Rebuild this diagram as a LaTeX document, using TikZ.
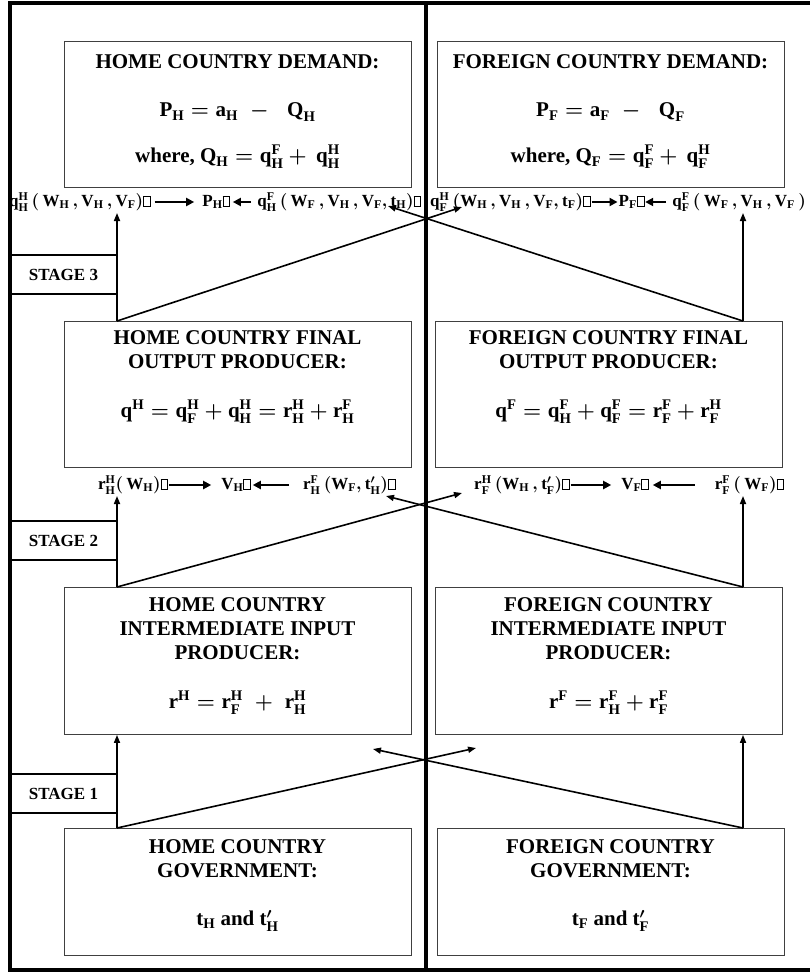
\documentclass[tikz,border=0pt]{standalone}
\usepackage{amsmath}
\usepackage{fontspec}
\setmainfont{Liberation Serif}
\usetikzlibrary{arrows.meta}
\newcommand{\qb}{{\setlength{\fboxsep}{0pt}\setlength{\fboxrule}{0.5pt}\fbox{\rule{0pt}{0.6em}\hspace{0.36em}}}}
\newcommand{\Xss}[3]{\textbf{#1}^{\textbf{#2}}_{\textbf{#3}}}
\newcommand{\Xsb}[2]{\textbf{#1}_{\textbf{#2}}}
\newcommand{\Xsp}[2]{\textbf{#1}^{\textbf{#2}}}
\newcommand{\Xpr}[2]{\textbf{#1}'_{\textbf{#2}}}
\tikzset{
  box/.style={draw=black!75, line width=0.9pt, minimum width=347pt, inner sep=0pt, anchor=north west},
  head/.style={font=\fontsize{21}{24}\selectfont\bfseries\boldmath, align=center, inner sep=0pt},
  eqn/.style={font=\fontsize{21}{24}\selectfont\bfseries\boldmath, inner sep=0pt},
  lab/.style={font=\fontsize{17}{20}\selectfont\bfseries\boldmath, inner sep=0pt},
  stg/.style={draw, line width=1.5pt, minimum width=107pt, minimum height=39pt, inner sep=0pt,
              font=\fontsize{17}{20}\selectfont\bfseries},
  frame/.style={line width=3.6pt},
  conn/.style={line width=1.6pt},
  arr/.style={conn, -{Triangle[length=8pt,width=6pt]}},
  harr/.style={line width=2.4pt, -{Triangle[length=8pt,width=8pt]}},
}
\begin{document}
\begin{tikzpicture}[x=1pt,y=-1pt]
\useasboundingbox (0,0) rectangle (809,974);
% frame
\coordinate (ftl) at (10,3);
\coordinate (ftr) at (812,3);
\coordinate (fbl) at (10,970);
\coordinate (fbr) at (812,970);
\coordinate (mt) at (426,3);
\coordinate (mb) at (426,970);
\draw[frame] (ftr) -- (ftl) -- (fbl) -- (fbr);
\draw[line width=4pt] (mt) -- (mb);

% boxes
\node[box, minimum height=146pt] (hd) at (64,41) {};
\node[box, minimum height=146pt] (fd) at (437,41) {};
\node[box, minimum height=146pt] (hf) at (64,321) {};
\node[box, minimum height=146pt] (ff) at (435,321) {};
\node[box, minimum height=147pt] (hi) at (64,587) {};
\node[box, minimum height=147pt] (fi) at (435,587) {};
\node[box, minimum height=127pt] (hg) at (64,828) {};
\node[box, minimum height=127pt] (fg) at (437,828) {};

% box texts
\node[head] (hdT) at (237.5,62) {HOME COUNTRY DEMAND:};
\node[eqn] (hdE) at (237.5,112) {$\Xsb{P}{H} = \Xsb{a}{H}\;-\;\;\Xsb{Q}{H}$};
\node[eqn] (hdW) at (237.5,157) {where, $\Xsb{Q}{H} = \Xss{q}{F}{H} +\, \Xss{q}{H}{H}$};
\node[head] (fdT) at (610.5,62) {FOREIGN COUNTRY DEMAND:};
\node[eqn] (fdE) at (610.5,112) {$\Xsb{P}{F} = \Xsb{a}{F}\;-\;\;\Xsb{Q}{F}$};
\node[eqn] (fdW) at (610.5,157) {where, $\Xsb{Q}{F} = \Xss{q}{F}{F} +\, \Xss{q}{H}{F}$};

\node[head] (hfT) at (237.5,350) {HOME COUNTRY FINAL\\OUTPUT PRODUCER:};
\node[eqn] (hfE) at (237.5,412) {$\Xsp{q}{H} = \Xss{q}{H}{F} + \Xss{q}{H}{H} = \Xss{r}{H}{H} + \Xss{r}{F}{H}$};
\node[head] (ffT) at (608.5,350) {FOREIGN COUNTRY FINAL\\OUTPUT PRODUCER:};
\node[eqn] (ffE) at (608.5,412) {$\Xsp{q}{F} = \Xss{q}{F}{H} + \Xss{q}{F}{F} = \Xss{r}{F}{F} + \Xss{r}{H}{F}$};

\node[head] (hiT) at (237.5,629) {HOME COUNTRY\\INTERMEDIATE INPUT\\PRODUCER:};
\node[eqn] (hiE) at (237.5,703) {$\Xsp{r}{H} = \Xss{r}{H}{F}\;+\; \Xss{r}{H}{H}$};
\node[head] (fiT) at (608.5,629) {FOREIGN COUNTRY\\INTERMEDIATE INPUT\\PRODUCER:};
\node[eqn] (fiE) at (608.5,703) {$\Xsp{r}{F} = \Xss{r}{F}{H} + \Xss{r}{F}{F}$};

\node[head] (hgT) at (237.5,859) {HOME COUNTRY\\GOVERNMENT:};
\node[eqn] (hgE) at (237.5,921) {$\Xsb{t}{H}$ and $\Xpr{t}{H}$};
\node[head] (fgT) at (610.5,859) {FOREIGN COUNTRY\\GOVERNMENT:};
\node[eqn] (fgE) at (610.5,921) {$\Xsb{t}{F}$ and $\Xpr{t}{F}$};

% stage boxes
\node[stg] (s3) at (63.5,274.5) {STAGE 3};
\node[stg] (s2) at (63.5,540.5) {STAGE 2};
\node[stg] (s1) at (63.5,793.5) {STAGE 1};

% row 1 labels
\node[lab, anchor=west] (qHH) at (9,202) {$\Xss{q}{H}{H}\,(\,\Xsb{W}{H}\,,\Xsb{V}{H}\,,\Xsb{V}{F})$\qb};
\node[lab] (PH) at (216,202) {$\Xsb{P}{H}$\qb};
\node[lab, anchor=east] (qHF) at (421,202) {$\Xss{q}{F}{H}\,(\,\Xsb{W}{F}\,,\Xsb{V}{H}\,,\Xsb{V}{F},\Xsb{t}{H})$\qb};
\node[lab, anchor=west] (qFH) at (430,202) {$\Xss{q}{H}{F}\,(\Xsb{W}{H}\,,\Xsb{V}{H}\,,\Xsb{V}{F},\Xsb{t}{F})$\qb};
\node[lab, anchor=east] (qFF) at (806,202) {$\Xss{q}{F}{F}\,(\,\Xsb{W}{F}\,,\Xsb{V}{H}\,,\Xsb{V}{F}\,)$};
\path (qFH.east) -- (qFF.west) node[lab, pos=0.5] (PF) {$\Xsb{P}{F}$\qb};

\draw[harr, shorten <=4pt, shorten >=8pt] (qHH.east) -- (PH.west);
\draw[harr, shorten <=6pt, shorten >=3pt] (qHF.west) -- (PH.east);
\draw[harr, shorten <=1pt, shorten >=1pt] (qFH.east) -- (PF.west);
\draw[harr, shorten <=6pt, shorten >=1pt] (qFF.west) -- (PF.east);

% row 2 labels
\node[lab, anchor=west] (rHH) at (98,485) {$\Xss{r}{H}{H}(\,\Xsb{W}{H})$\qb};
\node[lab] (VH) at (236,485) {$\Xsb{V}{H}$\qb};
\node[lab, anchor=west] (rHF) at (303,485) {$\Xss{r}{F}{H}\,(\Xsb{W}{F},\Xpr{t}{H})$\qb};
\node[lab, anchor=west] (rFH) at (474,485) {$\Xss{r}{H}{F}\,(\Xsb{W}{H}\,,\Xpr{t}{F})$\qb};
\node[lab] (VF) at (635,485) {$\Xsb{V}{F}$\qb};
\node[lab, anchor=east] (rFF) at (784,485) {$\Xss{r}{F}{F}\,(\,\Xsb{W}{F})$\qb};

\draw[harr, shorten <=1pt, shorten >=10pt] (rHH.east) -- (VH.west);
\draw[harr, shorten <=14pt, shorten >=2pt] (rHF.west) -- (VH.east);
\draw[harr, shorten <=1pt, shorten >=10pt] (rFH.east) -- (VF.west);
\draw[harr, shorten <=20pt, shorten >=4pt] (rFF.west) -- (VF.east);

% stage 3 connectors
\coordinate (a3L) at (117,321);
\coordinate (a3R) at (743,321);
\coordinate (t3L) at (117,213);
\coordinate (t3R) at (743,213);
\coordinate (x3L) at (388,206);
\coordinate (x3R) at (462,207);
\draw[arr] (a3L) -- (t3L);
\draw[arr] (a3R) -- (t3R);
\draw[arr] (a3L) -- (x3R);
\draw[arr] (a3R) -- (x3L);

% stage 2 connectors
\coordinate (a2L) at (117,587);
\coordinate (a2R) at (743,587);
\coordinate (t2L) at (117,496);
\coordinate (t2R) at (743,496);
\coordinate (x2L) at (386,496);
\coordinate (x2R) at (462,493);
\draw[arr] (a2L) -- (t2L);
\draw[arr] (a2R) -- (t2R);
\draw[arr] (a2L) -- (x2R);
\draw[arr] (a2R) -- (x2L);

% stage 1 connectors
\coordinate (a1L) at (117,828);
\coordinate (a1R) at (743,828);
\draw[arr] (a1L) -- (hi.south west -| a1L);
\draw[arr] (a1R) -- (fi.south west -| a1R);
\coordinate (x1L) at (373,749);
\coordinate (x1R) at (476,748);
\draw[arr] (a1L) -- (x1R);
\draw[arr] (a1R) -- (x1L);
\end{tikzpicture}
\end{document}
